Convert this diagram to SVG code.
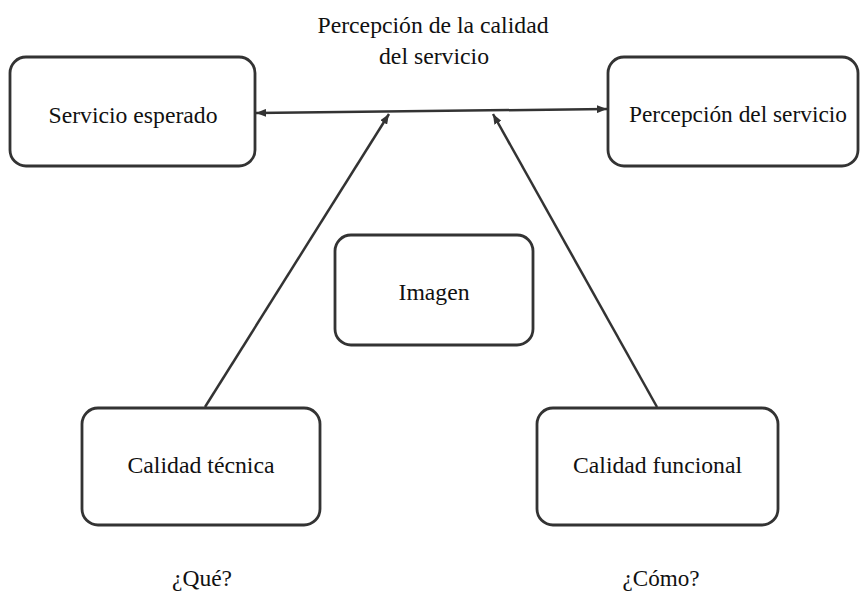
<svg xmlns="http://www.w3.org/2000/svg" width="866" height="594" viewBox="0 0 866 594">
<defs>
<style>
.box{fill:#fff;stroke:#333;stroke-width:2.8}
.t{font-family:"Liberation Serif","Times New Roman",serif;font-size:22.5px;fill:#111;text-anchor:middle}
.ln{stroke:#333;stroke-width:2.5;fill:none}
</style>
<marker id="ah" viewBox="0 0 10 8" markerWidth="10" markerHeight="8" refX="10" refY="4" orient="auto-start-reverse" markerUnits="userSpaceOnUse">
<path d="M0,0 L10,4 L0,8 z" fill="#333"/>
</marker>
</defs>
<rect width="866" height="594" fill="#fff"/>
<g id="connectors">
<line class="ln" x1="256" y1="113" x2="607" y2="109" marker-start="url(#ah)" marker-end="url(#ah)"/>
<line class="ln" x1="205" y1="407" x2="389" y2="114" marker-end="url(#ah)"/>
<line class="ln" x1="657" y1="407" x2="493" y2="114" marker-end="url(#ah)"/>
</g>
<g id="title">
<text class="t" x="433" y="33" textLength="231" lengthAdjust="spacingAndGlyphs">Percepción de la calidad</text>
<text class="t" x="434" y="64" textLength="110" lengthAdjust="spacingAndGlyphs">del servicio</text>
</g>
<g id="servicio-esperado">
<rect class="box" x="10" y="57" width="245" height="109" rx="16"/>
<text class="t" x="133" y="123" textLength="169" lengthAdjust="spacingAndGlyphs">Servicio esperado</text>
</g>
<g id="percepcion-servicio">
<rect class="box" x="608" y="57" width="250" height="109" rx="16"/>
<text class="t" x="738" y="122" textLength="218" lengthAdjust="spacingAndGlyphs">Percepción del servicio</text>
</g>
<g id="imagen">
<rect class="box" x="335" y="235" width="198" height="110" rx="16"/>
<text class="t" x="434" y="300" textLength="71" lengthAdjust="spacingAndGlyphs">Imagen</text>
</g>
<g id="calidad-tecnica">
<rect class="box" x="82" y="408" width="238" height="117" rx="16"/>
<text class="t" x="201" y="473" textLength="147" lengthAdjust="spacingAndGlyphs">Calidad técnica</text>
</g>
<g id="calidad-funcional">
<rect class="box" x="537" y="408" width="241" height="117" rx="16"/>
<text class="t" x="657.5" y="473" textLength="169" lengthAdjust="spacingAndGlyphs">Calidad funcional</text>
</g>
<g id="que">
<text class="t" x="202" y="586" textLength="60" lengthAdjust="spacingAndGlyphs">¿Qué?</text>
</g>
<g id="como">
<text class="t" x="661" y="586" textLength="77" lengthAdjust="spacingAndGlyphs">¿Cómo?</text>
</g>
</svg>
